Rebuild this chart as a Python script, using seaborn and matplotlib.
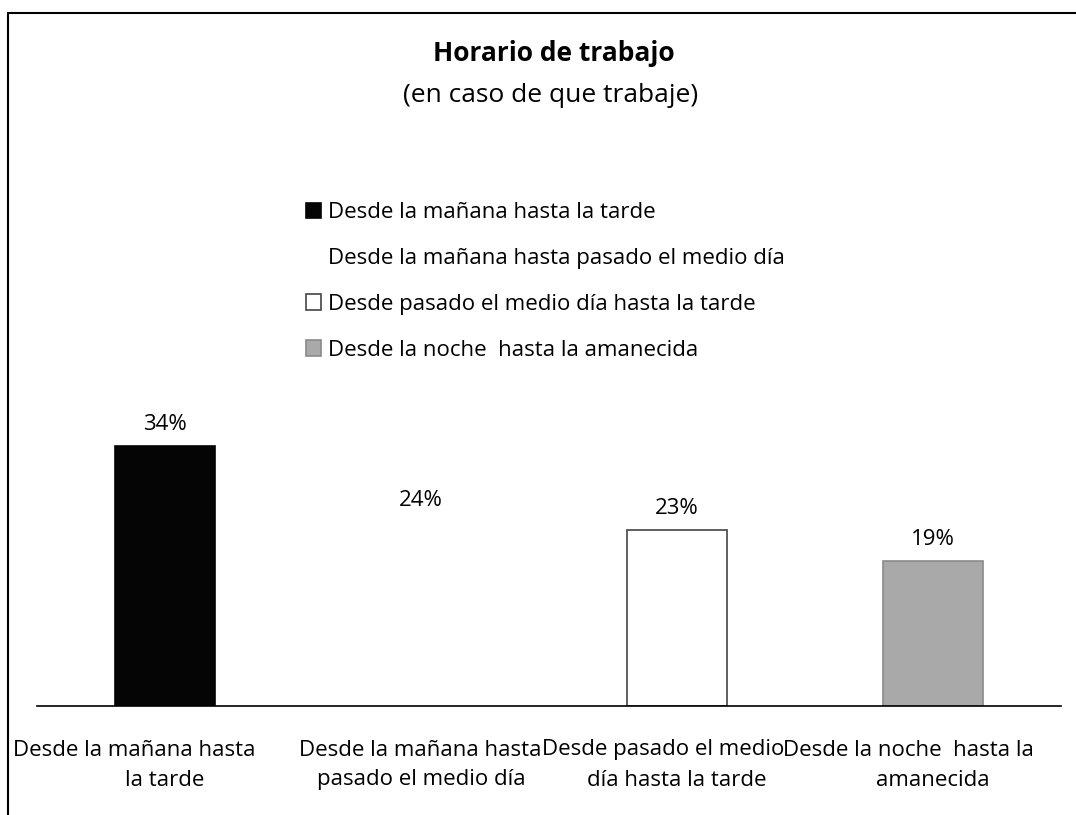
import matplotlib
matplotlib.use("Agg")
import matplotlib.pyplot as plt
import seaborn as sns
from matplotlib.lines import Line2D

# datos
categorias = ["Desde la mañana hasta la tarde",
              "Desde la mañana hasta pasado el medio día",
              "Desde pasado el medio día hasta la tarde",
              "Desde la noche  hasta la amanecida"]
linea1 = ["Desde la mañana hasta", "Desde la mañana hasta",
          "Desde pasado el medio", "Desde la noche  hasta la"]
linea2 = ["la tarde", "pasado el medio día", "día hasta la tarde", "amanecida"]
porcentajes = [34, 24, 23, 19]
colores = ["#050505", "#ffffff", "#ffffff", "#a9a9a9"]
bordes = ["#050505", "none", "#444444", "#8a8a8a"]

# desplazamiento horizontal (px) de la primera linea de cada etiqueta, como en el original
desp_linea1 = [-31, -1, -14, -25]

sns.set_style("white")
plt.rcParams["font.family"] = ["Open Sans", "DejaVu Sans"]
plt.rcParams["text.color"] = "black"
plt.rcParams["xtick.color"] = "black"

fig = plt.figure(figsize=(10.76, 8.15), dpi=100)
ax = fig.add_axes([37 / 1076, 1 - 706 / 815, (1061 - 37) / 1076, 306 / 815])

sns.barplot(x=categorias, y=porcentajes, hue=categorias, palette=colores,
            width=0.39, legend=False, ax=ax, saturation=1)
for p, ec in zip(ax.patches, bordes):
    p.set_edgecolor(ec)
    p.set_linewidth(1.2)

ax.set_ylim(0, 40)
ax.set_xlim(-0.5, 3.5)
ax.set_yticks([])
ax.set_xticks(range(len(categorias)))
ax.set_xticklabels([""] * len(categorias))
ax.tick_params(axis="x", length=0)
ax.set_xlabel("")
ax.set_ylabel("")
for s in ["top", "right", "left"]:
    ax.spines[s].set_visible(False)
ax.spines["bottom"].set_color("black")
ax.spines["bottom"].set_linewidth(1.2)

# etiquetas de categoria (dos lineas)
for i in range(len(categorias)):
    ax.annotate(linea1[i], (i, 0), xycoords=("data", "axes fraction"),
                xytext=(desp_linea1[i], -44), textcoords="offset pixels",
                ha="center", va="center", fontsize=16, annotation_clip=False)
    ax.annotate(linea2[i], (i, 0), xycoords=("data", "axes fraction"),
                xytext=(0, -74), textcoords="offset pixels",
                ha="center", va="center", fontsize=16, annotation_clip=False)

for i, v in enumerate(porcentajes):
    ax.annotate(f"{v}%", (i, v), xytext=(0, 8), textcoords="offset points",
                ha="center", va="bottom", fontsize=16)

# leyenda
ax.legend(ax.patches, categorias, loc="upper left",
          bbox_to_anchor=(286 / 1076, 1 - 182 / 815), bbox_transform=fig.transFigure,
          frameon=False, fontsize=16, handlelength=0.68, handleheight=0.68,
          handletextpad=0.3, labelspacing=1.12)

fig.text(554 / 1076, 1 - 61 / 815, "Horario de trabajo", ha="center", va="baseline",
         fontsize=19, fontweight="bold")
fig.text(551 / 1076, 1 - 102 / 815, "(en caso de que trabaje)", ha="center", va="baseline",
         fontsize=19)

# marco exterior
fig.add_artist(Line2D([8 / 1076, 1], [1 - 13 / 815, 1 - 13 / 815], color="black", lw=1.5))
fig.add_artist(Line2D([8 / 1076, 8 / 1076], [0, 1 - 13 / 815], color="black", lw=1.5))

fig.savefig("out.png", dpi=100)
